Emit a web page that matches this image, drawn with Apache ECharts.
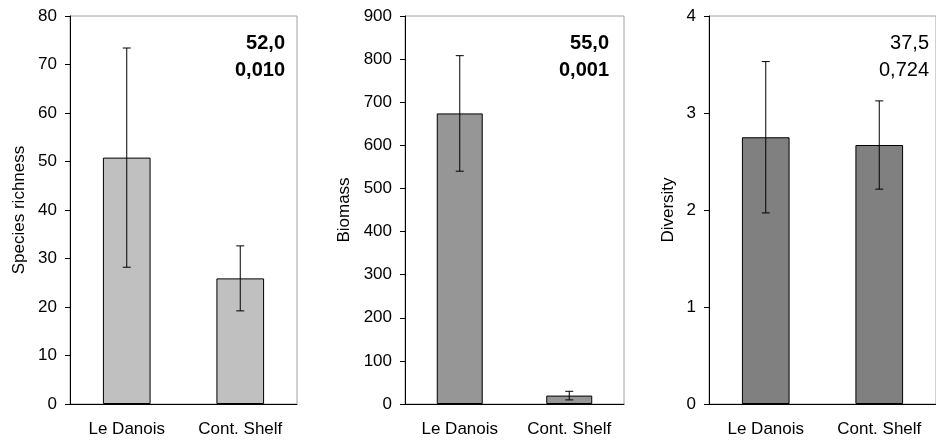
<!DOCTYPE html>
<html>
<head>
<meta charset="utf-8">
<script src="https://cdn.jsdelivr.net/npm/echarts@6/dist/echarts.min.js"></script>
<style>
    html, body { margin: 0; padding: 0; background: #fff; }
    #chart-container { width: 936px; height: 441px; }
</style>
</head>
<body>
<div id="chart-container"></div>
<script>
var categories = ['Le Danois', 'Cont. Shelf'];

var richnessMean = [50.8, 25.9];
var richnessErr = [22.6, 6.7];
var biomassMean = [674, 19.5];
var biomassErr = [134, 10];
var diversityMean = [2.75, 2.67];
var diversityErr = [0.78, 0.455];

var axisNames = ['Species richness', 'Biomass', 'Diversity'];
var axisMax = [80, 900, 4];
var axisStep = [10, 100, 1];
var statTop = ['52,0', '55,0', '37,5'];
var statBottom = ['0,010', '0,001', '0,724'];

var FONT = "'Liberation Sans', Arial, sans-serif";

var myChart = echarts.init(document.getElementById('chart-container'));

var panels = [
    { left: 70, width: 227, mean: richnessMean, err: richnessErr, color: '#c0c0c0', gap: 42, textX: 285, bold: true },
    { left: 405, width: 219, mean: biomassMean, err: biomassErr, color: '#969696', gap: 52, textX: 609, bold: true },
    { left: 709, width: 235, mean: diversityMean, err: diversityErr, color: '#808080', gap: 32, textX: 929, bold: false }
];

// whiskers: vertical line + two caps
var errorBars = function (params, api) {
    var x = api.value(0);
    var hi = api.coord([x, api.value(1)]);
    var lo = api.coord([x, api.value(2)]);
    var half = 4;
    var style = { stroke: '#000', lineWidth: 1 };
    return {
        type: 'group',
        children: [
            { type: 'line', shape: { x1: hi[0], y1: hi[1], x2: lo[0], y2: lo[1] }, style: style },
            { type: 'line', shape: { x1: hi[0] - half, y1: hi[1], x2: hi[0] + half, y2: hi[1] }, style: style },
            { type: 'line', shape: { x1: lo[0] - half, y1: lo[1], x2: lo[0] + half, y2: lo[1] }, style: style }
        ]
    };
};

var option = {
    animation: false,
    textStyle: { fontFamily: FONT },
    grid: [],
    xAxis: [],
    yAxis: [],
    series: [],
    graphic: []
};

panels.forEach(function (p, i) {
    option.grid.push({
        left: p.left, width: p.width, top: 16, height: 388,
        show: true, borderColor: '#a0a0a0', borderWidth: 1, backgroundColor: 'transparent'
    });
    option.xAxis.push({
        type: 'category',
        gridIndex: i,
        data: categories,
        axisLine: { lineStyle: { color: '#000', width: 1 } },
        axisTick: { inside: true, length: 5, lineStyle: { color: '#000' } },
        axisLabel: { color: '#000', fontSize: 17, fontFamily: FONT, margin: 17 },
        splitLine: { show: false }
    });
    option.yAxis.push({
        type: 'value',
        gridIndex: i,
        min: 0,
        max: axisMax[i],
        interval: axisStep[i],
        name: axisNames[i],
        nameLocation: 'middle',
        nameGap: p.gap,
        nameTextStyle: { color: '#000', fontSize: 17, fontFamily: FONT },
        axisLine: { show: true, lineStyle: { color: '#000', width: 1 } },
        axisTick: { show: true, length: 5, lineStyle: { color: '#000' } },
        axisLabel: { color: '#000', fontSize: 17, fontFamily: FONT, margin: 13 },
        splitLine: { show: false }
    });
    option.series.push({
        type: 'bar',
        xAxisIndex: i,
        yAxisIndex: i,
        data: p.mean,
        barWidth: '42%',
        itemStyle: { color: p.color, borderColor: '#000', borderWidth: 1 }
    });
    var whiskers = [];
    p.mean.forEach(function (m, k) {
        whiskers.push([k, m + p.err[k], m - p.err[k]]);
    });
    option.series.push({
        type: 'custom',
        xAxisIndex: i,
        yAxisIndex: i,
        data: whiskers,
        renderItem: errorBars,
        z: 5
    });
    option.graphic.push({
        type: 'text', right: 936 - p.textX, top: 33,
        style: { text: statTop[i], fill: '#000', font: (p.bold ? 'bold ' : '') + '20px ' + FONT, textAlign: 'right' }
    });
    option.graphic.push({
        type: 'text', right: 936 - p.textX, top: 60,
        style: { text: statBottom[i], fill: '#000', font: (p.bold ? 'bold ' : '') + '20px ' + FONT, textAlign: 'right' }
    });
});

myChart.setOption(option);
</script>
</body>
</html>
